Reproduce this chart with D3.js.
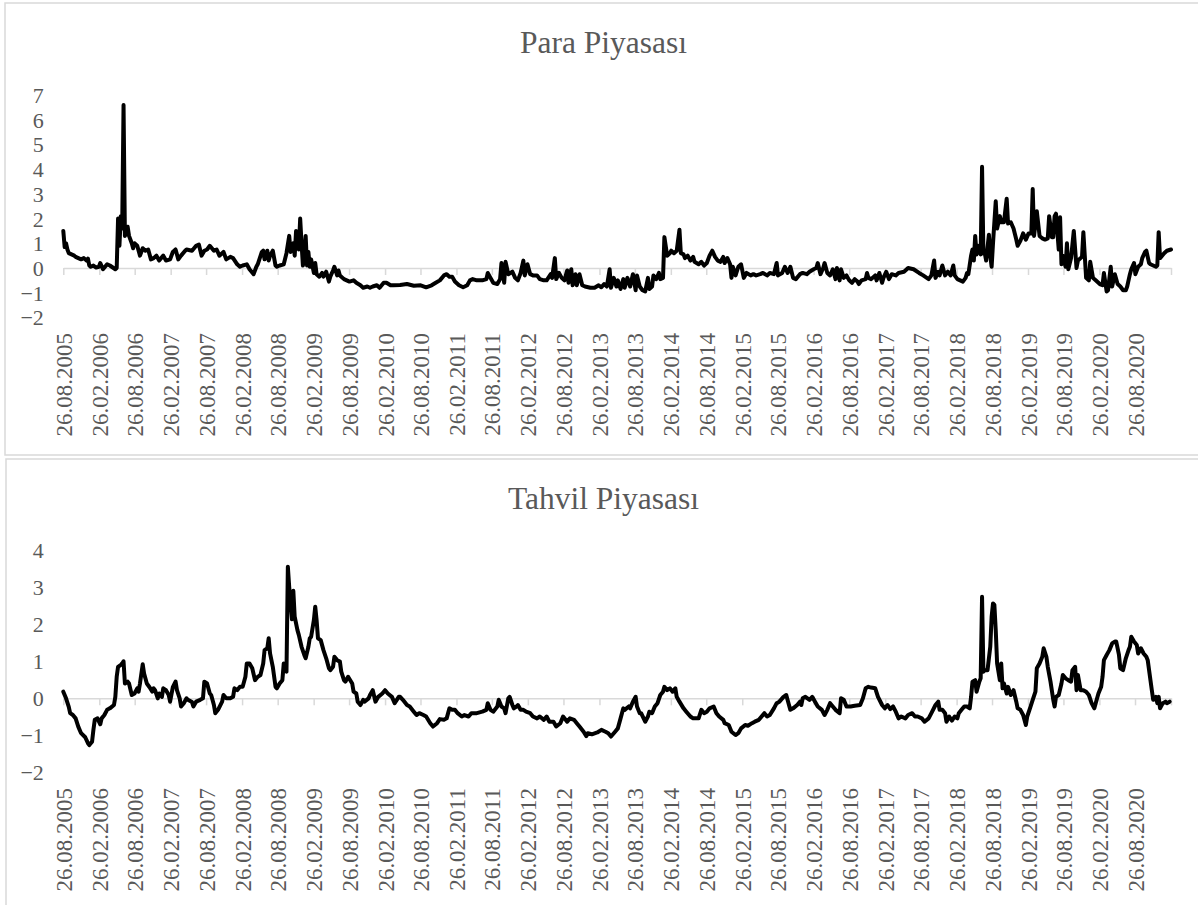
<!DOCTYPE html>
<html>
<head>
<meta charset="utf-8">
<script src="https://cdn.jsdelivr.net/npm/d3@7"></script>
<style>
  html, body { margin: 0; padding: 0; background: #fff; }
  svg { display: block; }
</style>
</head>
<body>
<svg id="chart" width="1198" height="905"></svg>
<script>
// ---------------- DATA ----------------
const startDate = "2005-08-26";   // first weekly observation
const endDate = "2021-02-26";     // axis end

const xTickLabels = [
  "26.08.2005","26.02.2006","26.08.2006","26.02.2007","26.08.2007","26.02.2008",
  "26.08.2008","26.02.2009","26.08.2009","26.02.2010","26.08.2010","26.02.2011",
  "26.08.2011","26.02.2012","26.08.2012","26.02.2013","26.08.2013","26.02.2014",
  "26.08.2014","26.02.2015","26.08.2015","26.02.2016","26.08.2016","26.02.2017",
  "26.08.2017","26.02.2018","26.08.2018","26.02.2019","26.08.2019","26.02.2020",
  "26.08.2020"
];

const paraTitle = "Para Piyasası";
const tahvilTitle = "Tahvil Piyasası";
const paraYTicks = [-2, -1, 0, 1, 2, 3, 4, 5, 6, 7];
const tahvilYTicks = [-2, -1, 0, 1, 2, 3, 4];

// [week index since start, value]
const paraSeries = [
[0,1.5],[1,0.85],[2,1.0],[3,0.75],[4,0.6],[6,0.55],[8,0.5],[9,0.45],[11,0.4],[13,0.35],
[15,0.4],[17,0.3],[18,0.38],[19,0.1],[20,0.05],[22,0.1],[24,0.02],[26,0.05],[27,0.2],[29,-0.05],
[32,0.15],[34,0.1],[38,-0.05],[39,0.0],[40,2.0],[41,0.9],[42,2.1],[43,1.6],[44,6.6],[45,1.3],
[46,1.5],[47,1.67],[48,1.3],[50,1.0],[51,0.8],[52,1.0],[54,0.9],[56,0.5],[58,0.8],[60,0.7],
[62,0.75],[64,0.35],[66,0.4],[68,0.5],[70,0.3],[73,0.5],[75,0.3],[78,0.35],[80,0.65],[82,0.75],
[84,0.35],[86,0.5],[89,0.7],[90,0.75],[94,0.7],[97,0.9],[99,0.95],[101,0.5],[103,0.7],[105,0.75],
[107,0.9],[110,0.7],[112,0.75],[114,0.5],[117,0.65],[119,0.35],[122,0.45],[124,0.4],[127,0.15],[129,0.05],
[131,0.1],[134,0.15],[136,-0.05],[139,-0.25],[141,0.05],[142,0.15],[145,0.65],[146,0.7],[147,0.35],[149,0.7],
[150,0.3],[151,0.5],[153,0.7],[155,0.1],[156,0.05],[158,0.1],[161,0.15],[163,0.6],[165,1.3],[166,0.65],
[168,1.0],[169,0.5],[170,1.5],[172,0.75],[173,2.0],[174,1.0],[175,0.1],[176,0.5],[177,1.3],[178,0.1],
[179,0.65],[180,0.05],[181,0.35],[183,-0.2],[184,0.2],[185,-0.25],[187,-0.35],[189,-0.2],[190,-0.35],[192,-0.15],
[194,-0.55],[195,-0.35],[197,-0.1],[198,0.05],[200,-0.3],[201,-0.1],[202,-0.3],[205,-0.45],[207,-0.5],[209,-0.55],
[212,-0.5],[214,-0.6],[217,-0.7],[219,-0.8],[222,-0.75],[224,-0.8],[226,-0.75],[229,-0.7],[231,-0.8],[234,-0.6],
[236,-0.6],[239,-0.7],[241,-0.7],[246,-0.69],[251,-0.65],[256,-0.72],[261,-0.7],[265,-0.78],[269,-0.7],[272,-0.6],
[275,-0.5],[278,-0.3],[280,-0.25],[282,-0.35],[284,-0.35],[286,-0.55],[289,-0.7],[292,-0.78],[295,-0.7],[297,-0.5],
[299,-0.45],[302,-0.5],[306,-0.5],[309,-0.45],[310,-0.2],[312,-0.4],[314,-0.6],[317,-0.65],[319,-0.45],[320,0.2],
[322,-0.6],[323,0.25],[325,-0.25],[328,-0.15],[330,-0.4],[332,-0.5],[334,-0.2],[336,0.3],[337,-0.3],[339,0.15],
[341,-0.25],[343,-0.3],[346,-0.3],[348,-0.45],[351,-0.5],[353,-0.5],[356,-0.25],[357,-0.4],[359,0.4],[360,-0.45],
[362,-0.2],[364,-0.4],[366,-0.5],[368,-0.1],[369,-0.6],[371,-0.05],[372,-0.7],[374,-0.25],[375,-0.7],[377,-0.25],
[379,-0.7],[381,-0.75],[385,-0.8],[388,-0.8],[391,-0.7],[393,-0.78],[395,-0.65],[397,-0.75],[399,-0.05],[400,-0.8],
[402,-0.4],[404,-0.75],[405,-0.5],[407,-0.85],[409,-0.45],[410,-0.8],[412,-0.4],[414,-0.75],[416,-0.25],[418,-0.9],
[419,-0.3],[421,-0.75],[423,-0.9],[425,-0.95],[427,-0.4],[428,-0.85],[430,-0.75],[431,-0.3],[433,-0.45],[435,-0.2],
[436,-0.45],[438,-0.4],[439,1.25],[441,0.5],[443,0.6],[444,0.7],[446,0.6],[448,0.7],[450,1.55],[451,0.6],
[453,0.55],[454,0.4],[456,0.5],[458,0.3],[460,0.45],[461,0.25],[464,0.15],[466,0.25],[468,0.1],[470,0.2],
[472,0.5],[474,0.7],[476,0.45],[478,0.3],[480,0.25],[482,0.45],[483,0.2],[485,0.4],[487,0.15],[488,-0.4],
[489,0.05],[491,-0.3],[493,0.05],[495,0.15],[497,-0.4],[499,-0.2],[502,-0.3],[504,-0.25],[506,-0.3],[509,-0.25],
[511,-0.2],[514,-0.3],[516,-0.2],[519,-0.25],[521,0.2],[522,-0.3],[525,-0.2],[527,0.05],[529,-0.2],[531,0.05],
[533,-0.4],[535,-0.45],[538,-0.25],[540,-0.2],[543,-0.25],[545,-0.15],[548,-0.05],[550,0.0],[551,0.2],[553,-0.25],
[555,0.0],[556,0.2],[558,-0.2],[560,-0.3],[562,-0.05],[564,-0.45],[565,0.0],[567,-0.5],[568,-0.05],[570,-0.4],
[572,-0.3],[574,-0.5],[576,-0.6],[578,-0.45],[580,-0.55],[581,-0.65],[583,-0.5],[586,-0.45],[587,-0.2],[588,-0.4],
[590,-0.45],[593,-0.3],[594,-0.5],[596,-0.2],[598,-0.6],[599,-0.4],[601,-0.15],[603,-0.45],[605,-0.25],[608,-0.3],
[610,-0.2],[614,-0.15],[617,0.0],[621,-0.05],[625,-0.2],[628,-0.3],[632,-0.45],[634,-0.3],[636,0.3],[637,-0.4],
[639,-0.15],[640,-0.3],[642,0.1],[644,-0.3],[646,-0.15],[648,-0.3],[650,0.1],[651,-0.3],[653,-0.45],[655,-0.5],
[657,-0.55],[659,-0.4],[660,-0.2],[661,-0.25],[663,0.5],[664,0.75],[665,0.3],[666,1.3],[667,0.55],[668,0.9],
[670,0.55],[671,4.1],[672,0.6],[673,0.6],[674,0.3],[676,1.35],[677,0.5],[678,0.05],[679,1.0],[681,2.7],
[682,1.6],[684,2.1],[685,1.85],[687,1.85],[689,2.8],[690,1.8],[692,1.85],[694,1.6],[696,1.15],[697,0.9],
[699,1.1],[701,1.4],[703,1.15],[705,1.4],[707,1.4],[708,3.2],[709,1.3],[711,2.3],[713,1.3],[715,1.2],
[717,1.15],[719,1.2],[720,2.1],[722,1.25],[723,1.25],[724,2.1],[725,2.2],[727,0.75],[728,2.05],[729,0.15],
[730,0.5],[732,0.05],[733,1.0],[734,-0.05],[736,0.4],[738,1.5],[740,0.0],[741,0.3],[744,0.45],[745,1.45],
[747,-0.4],[749,-0.5],[750,0.25],[752,-0.4],[754,-0.5],[755,-0.55],[757,-0.65],[759,-0.7],[760,-0.2],[762,-0.95],
[763,-0.9],[765,0.05],[766,-0.75],[768,-0.25],[770,-0.65],[772,-0.75],[774,-0.9],[776,-0.9],[777,-0.75],[779,-0.25],
[780,-0.05],[782,0.2],[783,-0.25],[785,0.05],[787,0.15],[788,0.4],[790,0.65],[791,0.7],[793,0.2],[794,0.15],
[796,0.1],[798,0.05],[799,0.1],[800,1.45],[801,0.4],[804,0.6],[806,0.7],[809,0.75]
];

const tahvilSeries = [
[0,0.18],[2,0.0],[4,-0.23],[5,-0.4],[7,-0.45],[9,-0.54],[11,-0.77],[13,-0.94],[16,-1.05],[18,-1.21],
[19,-1.26],[21,-1.17],[22,-0.85],[23,-0.58],[25,-0.54],[27,-0.7],[28,-0.54],[30,-0.45],[32,-0.31],[34,-0.27],
[37,-0.18],[38,0.04],[39,0.58],[40,0.85],[42,0.9],[43,0.94],[44,1.0],[45,0.4],[47,0.45],[48,0.4],
[50,0.09],[52,0.13],[54,0.27],[55,0.18],[56,0.4],[58,0.92],[59,0.67],[61,0.4],[63,0.3],[65,0.18],
[66,0.27],[67,0.22],[69,0.0],[70,0.13],[72,0.04],[73,0.27],[75,0.22],[77,0.09],[78,-0.09],[80,0.3],
[82,0.45],[83,0.22],[85,0.0],[86,-0.22],[88,-0.13],[90,0.0],[91,-0.04],[94,-0.1],[95,-0.22],[97,-0.09],
[100,-0.04],[102,0.0],[103,0.45],[105,0.4],[107,0.13],[108,0.09],[110,-0.18],[111,-0.4],[113,-0.31],[116,-0.09],
[117,0.09],[119,0.0],[122,0.0],[124,0.04],[125,0.27],[127,0.22],[129,0.31],[131,0.31],[133,0.58],[134,0.94],
[136,0.94],[138,0.81],[140,0.49],[142,0.58],[144,0.63],[146,0.94],[147,1.3],[149,1.35],[150,1.62],[151,1.21],
[153,0.85],[155,0.31],[156,0.27],[158,0.4],[160,0.49],[161,0.94],[163,0.72],[164,3.55],[165,3.0],[167,2.13],
[168,2.9],[169,2.2],[171,1.84],[172,1.71],[174,1.39],[176,1.17],[177,1.08],[179,1.39],[180,1.62],[181,1.66],
[183,2.11],[184,2.47],[185,2.11],[186,1.62],[188,1.57],[190,1.3],[192,1.08],[194,0.81],[195,0.76],[197,0.85],
[198,1.12],[200,1.03],[202,0.99],[203,0.72],[205,0.49],[206,0.45],[208,0.58],[211,0.4],[212,0.18],[214,0.13],
[215,-0.09],[217,-0.18],[219,-0.04],[220,-0.09],[223,0.0],[224,0.09],[226,0.22],[228,-0.09],[230,0.04],[233,0.13],
[235,0.22],[237,0.13],[240,0.04],[242,-0.13],[245,0.04],[246,0.04],[248,-0.04],[251,-0.18],[253,-0.22],[256,-0.36],
[258,-0.45],[260,-0.4],[263,-0.45],[265,-0.49],[268,-0.67],[270,-0.76],[273,-0.67],[275,-0.56],[278,-0.58],[280,-0.54],
[282,-0.27],[284,-0.31],[286,-0.31],[288,-0.4],[291,-0.49],[293,-0.45],[296,-0.49],[298,-0.4],[302,-0.4],[306,-0.36],
[309,-0.31],[310,-0.13],[312,-0.31],[314,-0.36],[317,-0.22],[318,-0.04],[320,-0.22],[322,-0.27],[323,-0.4],[325,0.0],
[326,0.04],[328,-0.18],[329,-0.27],[331,-0.22],[332,-0.18],[334,-0.31],[336,-0.31],[338,-0.36],[341,-0.4],[343,-0.49],
[346,-0.54],[348,-0.49],[351,-0.58],[353,-0.49],[355,-0.63],[358,-0.63],[360,-0.76],[363,-0.67],[365,-0.49],[368,-0.63],
[370,-0.54],[373,-0.58],[375,-0.67],[377,-0.76],[380,-0.9],[382,-1.02],[383,-0.94],[386,-0.97],[390,-0.92],[393,-0.85],
[396,-0.9],[398,-0.94],[400,-1.03],[403,-0.9],[405,-0.81],[407,-0.54],[409,-0.27],[410,-0.31],[413,-0.22],[414,-0.27],
[416,-0.09],[418,0.04],[419,-0.22],[421,-0.4],[422,-0.4],[425,-0.63],[427,-0.49],[428,-0.36],[430,-0.4],[432,-0.22],
[434,-0.13],[436,0.09],[438,0.18],[439,0.31],[441,0.22],[443,0.27],[445,0.18],[447,0.27],[448,0.04],[450,-0.09],
[453,-0.27],[455,-0.36],[458,-0.49],[460,-0.54],[464,-0.54],[466,-0.31],[468,-0.4],[470,-0.36],[472,-0.27],[475,-0.22],
[477,-0.4],[479,-0.49],[482,-0.58],[483,-0.67],[486,-0.72],[488,-0.9],[491,-0.99],[493,-0.94],[495,-0.81],[498,-0.72],
[500,-0.74],[503,-0.67],[505,-0.63],[508,-0.58],[510,-0.49],[512,-0.4],[514,-0.49],[516,-0.45],[519,-0.27],[521,-0.13],
[523,-0.09],[526,0.04],[528,0.09],[530,-0.18],[531,-0.31],[533,-0.27],[536,-0.18],[538,-0.09],[539,-0.18],[540,0.0],
[542,0.04],[545,-0.04],[547,0.04],[549,-0.09],[551,-0.22],[554,-0.31],[556,-0.45],[558,-0.31],[560,-0.13],[562,-0.22],
[564,-0.31],[567,-0.4],[568,0.0],[570,-0.04],[572,-0.22],[575,-0.22],[578,-0.2],[582,-0.18],[584,0.0],[586,0.27],
[588,0.31],[590,0.29],[593,0.27],[595,0.04],[598,-0.18],[600,-0.27],[602,-0.18],[604,-0.29],[606,-0.22],[608,-0.36],
[610,-0.54],[612,-0.49],[615,-0.54],[617,-0.45],[620,-0.4],[622,-0.49],[624,-0.49],[627,-0.54],[629,-0.63],[632,-0.54],
[634,-0.4],[637,-0.18],[639,-0.09],[640,-0.31],[642,-0.31],[644,-0.4],[645,-0.63],[647,-0.49],[649,-0.6],[651,-0.49],
[653,-0.54],[654,-0.4],[656,-0.31],[658,-0.22],[660,-0.22],[662,-0.27],[663,0.04],[664,0.45],[666,0.49],[667,0.18],
[669,0.45],[670,0.54],[671,2.74],[672,0.72],[673,0.76],[675,0.76],[677,1.39],[678,2.2],[679,2.56],[680,2.52],
[681,1.84],[682,0.94],[684,0.49],[685,0.94],[686,0.27],[687,0.4],[689,0.13],[690,0.31],[692,0.09],[694,0.22],
[696,-0.09],[697,-0.27],[699,-0.31],[701,-0.45],[703,-0.72],[704,-0.49],[706,-0.27],[708,-0.04],[710,0.18],[711,0.81],
[713,0.94],[715,1.12],[716,1.35],[718,1.12],[719,0.85],[721,0.45],[723,-0.04],[724,-0.22],[725,0.04],[727,0.09],
[729,0.4],[730,0.63],[732,0.54],[734,0.49],[736,0.45],[737,0.76],[739,0.85],[740,0.22],[741,0.63],[743,0.22],
[745,0.22],[747,0.18],[749,0.09],[751,-0.13],[753,-0.27],[754,-0.13],[756,0.13],[758,0.31],[759,0.58],[760,1.03],
[762,1.17],[764,1.3],[766,1.48],[768,1.53],[769,1.53],[771,1.17],[772,0.81],[774,0.76],[776,1.08],[778,1.3],
[779,1.39],[780,1.66],[782,1.53],[784,1.44],[785,1.21],[787,1.35],[789,1.21],[791,1.12],[792,1.03],[794,0.49],
[795,0.22],[796,-0.04],[798,0.04],[799,-0.13],[800,0.04],[801,-0.27],[803,-0.13],[805,-0.09],[806,-0.13],[808,-0.09]
];

// ---------------- RENDER ----------------
const svg = d3.select("#chart");
const parseIso = d3.utcParse("%Y-%m-%d");
const parseLabel = d3.utcParse("%d.%m.%Y");
const t0 = parseIso(startDate), t1 = parseIso(endDate);
const weekToDate = w => new Date(t0.getTime() + w * 7 * 864e5);

const textColor = "#595959";
const gridColor = "#d9d9d9";
const fontFamily = "'Liberation Serif', 'Times New Roman', serif";

function drawPanel(cfg) {
  const g = svg.append("g");
  // panel border
  g.append("rect")
    .attr("x", cfg.box[0]).attr("y", cfg.box[1])
    .attr("width", cfg.box[2]).attr("height", cfg.box[3])
    .attr("fill", "none").attr("stroke", gridColor).attr("stroke-width", 1.5);

  // title
  g.append("text")
    .attr("x", 603.5).attr("y", cfg.titleY)
    .attr("text-anchor", "middle")
    .attr("font-family", fontFamily).attr("font-size", 31.5)
    .attr("fill", textColor)
    .text(cfg.title);

  const x = d3.scaleUtc().domain([t0, t1]).range([63.3, 1171]);
  const y = d3.scaleLinear().domain([cfg.yTicks[0], cfg.yTicks[cfg.yTicks.length - 1]]).range(cfg.yRange);

  // y axis labels
  const yAxis = d3.axisLeft(y).tickValues(cfg.yTicks).tickSize(0).tickPadding(19.5)
    .tickFormat(d3.format("d"));
  const yg = g.append("g").attr("transform", "translate(63.3,0)").call(yAxis);
  yg.select(".domain").remove();
  yg.selectAll("text")
    .attr("font-family", fontFamily).attr("font-size", 22)
    .attr("fill", textColor).attr("dy", "0.34em");

  // tick dates (labels + axis end)
  const tickDates = xTickLabels.map(parseLabel).concat([t1]);

  // horizontal category axis at zero with tick marks
  const xAxisLine = d3.axisBottom(x).tickValues(tickDates).tickFormat("")
    .tickSizeInner(7).tickSizeOuter(0);
  const xg = g.append("g").attr("transform", `translate(0,${y(0)})`).call(xAxisLine);
  xg.select(".domain").attr("stroke", gridColor).attr("stroke-width", 1.5);
  xg.selectAll(".tick line").attr("stroke", gridColor).attr("stroke-width", 1.5);

  // rotated date labels below plot area
  const labelAxis = d3.axisBottom(x).tickValues(xTickLabels.map(parseLabel))
    .tickFormat(d3.utcFormat("%d.%m.%Y")).tickSize(0).tickPadding(0);
  const lg = g.append("g").attr("transform", `translate(0,${cfg.yRange[0] + 15.6})`).call(labelAxis);
  lg.select(".domain").remove();
  lg.selectAll("text")
    .attr("font-family", fontFamily).attr("font-size", 23)
    .attr("fill", textColor)
    .attr("text-anchor", "end")
    .attr("transform", "rotate(-90)")
    .attr("x", 0).attr("y", 0).attr("dy", "0.35em");

  // series line
  const line = d3.line()
    .x(d => x(weekToDate(d[0])))
    .y(d => y(d[1]));
  g.append("path")
    .datum(cfg.series)
    .attr("d", line)
    .attr("fill", "none")
    .attr("stroke", "#000")
    .attr("stroke-width", 4)
    .attr("stroke-linejoin", "round")
    .attr("stroke-linecap", "round");
}

drawPanel({
  box: [5, 3, 1200, 452],
  title: paraTitle, titleY: 53.3,
  yTicks: paraYTicks, yRange: [317.4, 95.1],
  series: paraSeries
});

drawPanel({
  box: [6, 459, 1200, 460],
  title: tahvilTitle, titleY: 509.3,
  yTicks: tahvilYTicks, yRange: [772.5, 550],
  series: tahvilSeries
});
</script>
</body>
</html>
